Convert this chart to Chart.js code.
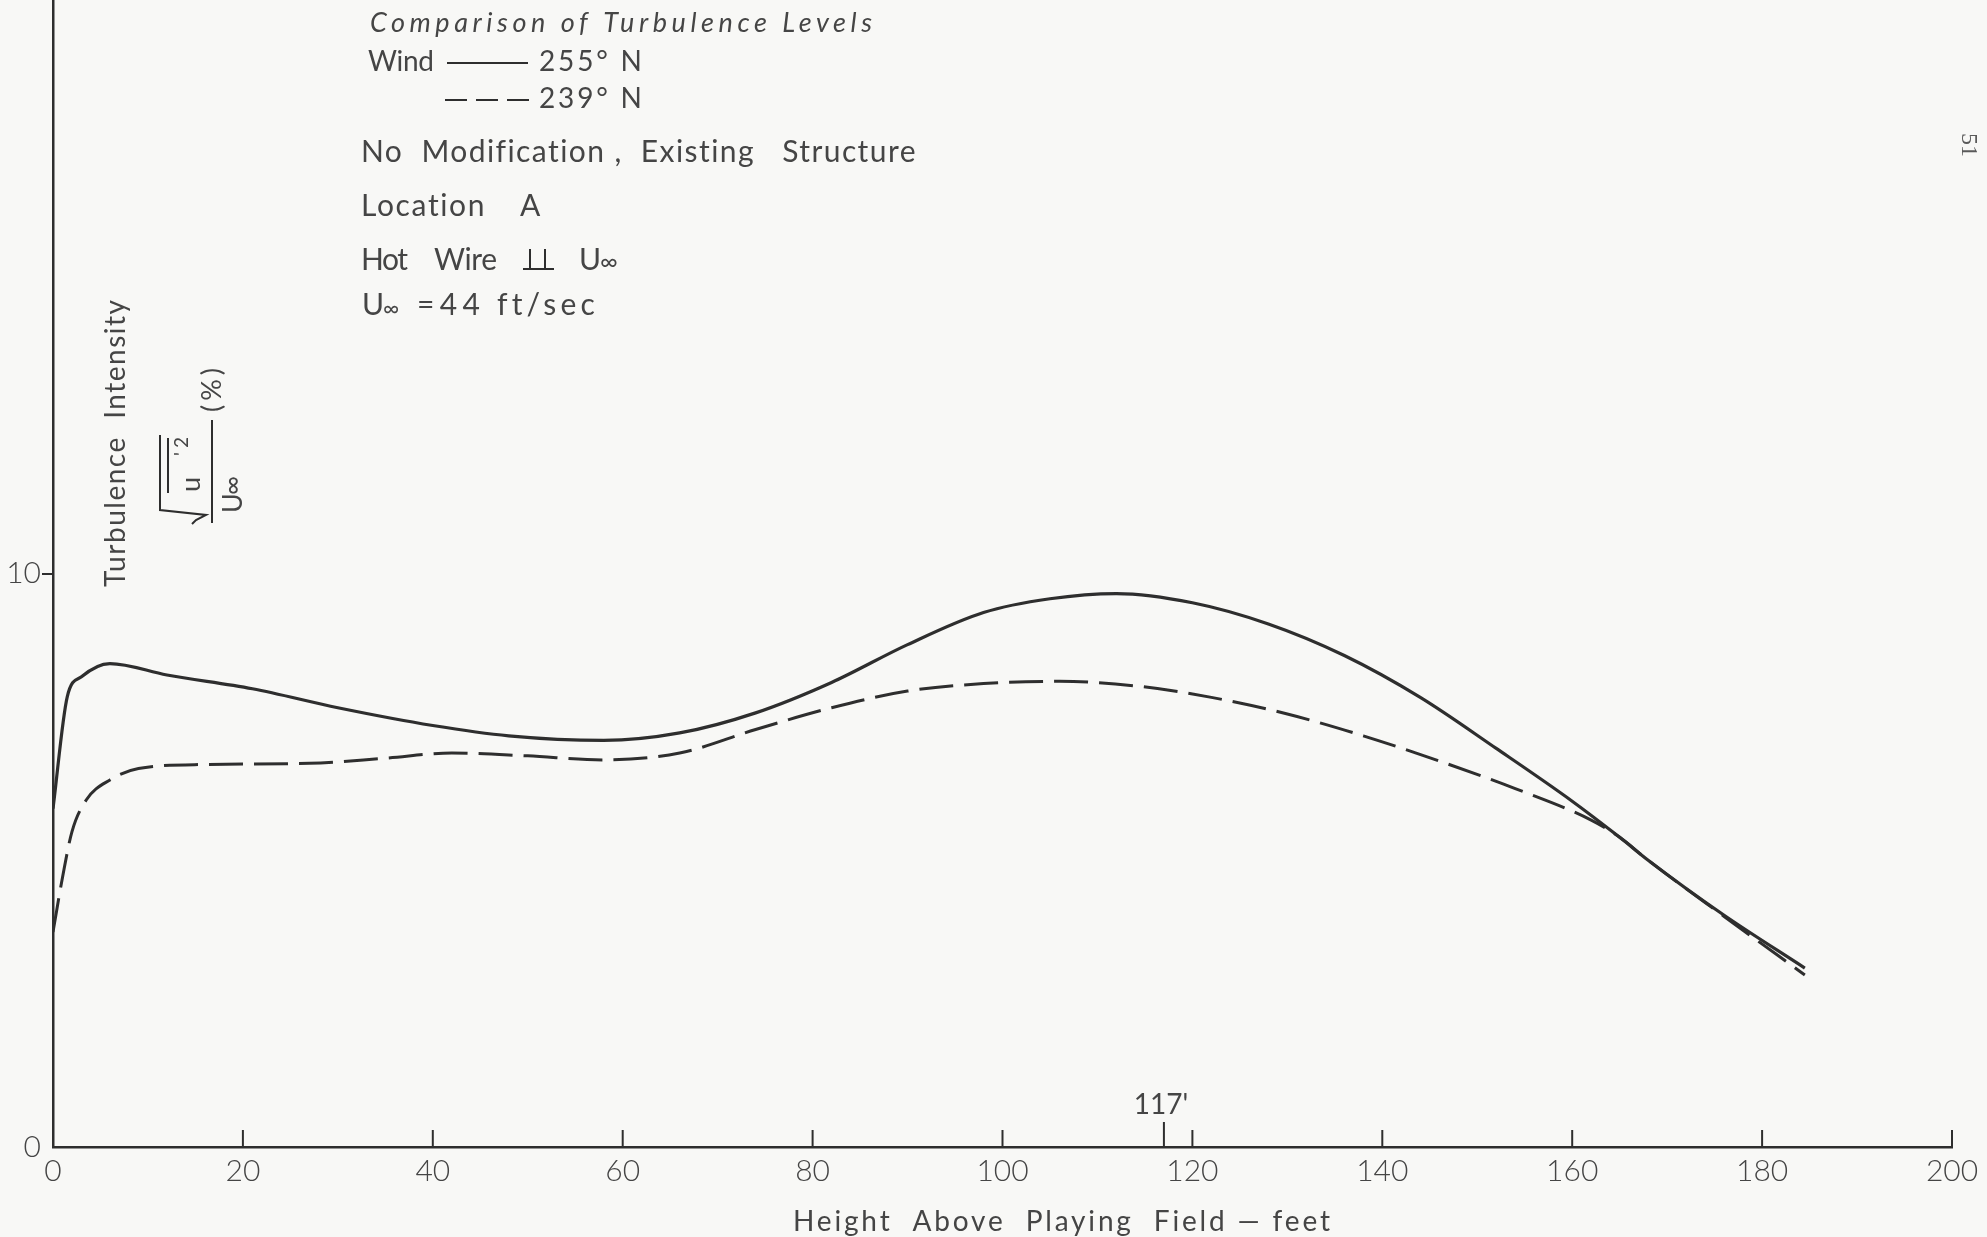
<!DOCTYPE html>
<html>
<head>
<meta charset="utf-8">
<script src="https://cdn.jsdelivr.net/npm/chart.js@4.4.0/dist/chart.umd.min.js"></script>
<style>
  html, body { margin: 0; padding: 0; background: #f8f8f6; }
  #wrap { width: 1987px; height: 1237px; }
</style>
</head>
<body>
<div id="wrap"><canvas id="turbChart" width="1987" height="1237"></canvas></div>
<script>
// heights above the playing field (ft) and turbulence intensity (%)
const heights255 = [0, 1.5, 3, 6, 12, 21, 30, 40, 48, 58, 66, 74, 82, 90, 98, 105, 112, 120, 128, 136, 144, 152, 160, 165, 168, 176, 184.5];
const turb255    = [5.9, 7.85, 8.2, 8.43, 8.23, 7.99, 7.66, 7.35, 7.17, 7.09, 7.22, 7.57, 8.1, 8.76, 9.32, 9.56, 9.65, 9.49, 9.12, 8.57, 7.84, 6.95, 6.03, 5.4, 5.0, 4.04, 3.12];

const heights239 = [0, 1, 2, 3.5, 6, 9, 16, 27, 35, 42, 50, 58, 66, 74, 82, 90, 98, 106, 114, 122, 130, 138, 146, 154, 162, 165, 168, 176, 184.5];
const turb239    = [3.75, 4.7, 5.5, 6.05, 6.4, 6.6, 6.67, 6.69, 6.78, 6.87, 6.82, 6.75, 6.87, 7.28, 7.66, 7.95, 8.08, 8.12, 8.04, 7.84, 7.55, 7.17, 6.73, 6.25, 5.7, 5.4, 5.0, 4.02, 3.0];

const xTickValues = [0, 20, 40, 60, 80, 100, 120, 140, 160, 180, 200];
const yTickValues = [0, 10];
const markerHeights = [117];
const markerLabels = ["117'"];

const ink = '#2e2e2e';
const textInk = '#454545';
const face = 'Lato, "DejaVu Sans", sans-serif';

// draw text so that it spans left..right (letter spacing stretched to fit)
function word(ctx, text, left, right, base, font) {
    ctx.font = font;
    ctx.letterSpacing = '0px';
    const w = ctx.measureText(text).width;
    let sp = text.length > 1 ? (right - left - w) / (text.length - 1) : 0;
    sp = Math.max(-2, Math.min(30, sp));
    ctx.letterSpacing = sp + 'px';
    ctx.textAlign = 'left';
    ctx.textBaseline = 'alphabetic';
    ctx.fillText(text, left, base);
    ctx.letterSpacing = '0px';
}

function line(ctx, x1, y1, x2, y2, w) {
    ctx.lineWidth = w;
    ctx.beginPath();
    ctx.moveTo(x1, y1);
    ctx.lineTo(x2, y2);
    ctx.stroke();
}

const paperNotes = {
    id: 'paperNotes',
    afterDraw(chart) {
        const ctx = chart.ctx;
        const xs = chart.scales.x;
        const ys = chart.scales.y;
        const base = ys.getPixelForValue(0);
        ctx.save();
        ctx.strokeStyle = ink;
        ctx.fillStyle = textInk;
        ctx.lineCap = 'butt';

        // tick marks point up into the plot
        xTickValues.forEach(v => {
            if (v === 0) return;
            const px = xs.getPixelForValue(v);
            line(ctx, px, base, px, base - 17, 2);
        });
        markerHeights.forEach((h, i) => {
            const px = xs.getPixelForValue(h);
            line(ctx, px, base, px, base - 25, 2);
            ctx.font = '28px ' + face;
            ctx.textAlign = 'center';
            ctx.textBaseline = 'alphabetic';
            ctx.fillText(markerLabels[i], px - 3, 1114);
        });

        // x axis title
        word(ctx, 'Height  Above  Playing  Field — feet', 793, 1330, 1231, '28px ' + face);

        // notes block
        word(ctx, 'Comparison of Turbulence Levels', 370, 872, 32, 'italic 27px ' + face);
        word(ctx, 'Wind', 368, 434, 71, '28px ' + face);
        line(ctx, 447, 63, 528, 63, 2);
        word(ctx, '255° N', 539, 642, 71, '28px ' + face);
        ctx.setLineDash([22, 9]);
        line(ctx, 445, 100, 531, 100, 2);
        ctx.setLineDash([]);
        word(ctx, '239° N', 539, 642, 108, '28px ' + face);
        word(ctx, 'No  Modification ,  Existing   Structure', 361, 916, 162, '30px ' + face);
        word(ctx, 'Location', 361, 485, 216, '30px ' + face);
        word(ctx, 'A', 520, 539, 216, '30px ' + face);
        word(ctx, 'Hot', 361, 408, 270, '30px ' + face);
        word(ctx, 'Wire', 434, 497, 270, '30px ' + face);
        // double perpendicular symbol
        line(ctx, 530, 249, 530, 268, 2);
        line(ctx, 545, 249, 545, 268, 2);
        line(ctx, 523, 269, 554, 269, 2);
        word(ctx, 'U', 579, 598, 270, '30px ' + face);
        word(ctx, '∞', 600, 619, 270, '24px ' + face);
        word(ctx, 'U', 362, 380, 315, '30px ' + face);
        word(ctx, '∞', 383, 408, 316, '22px ' + face);
        word(ctx, '=44', 417, 480, 315, '30px ' + face);
        word(ctx, 'ft/sec', 497, 594, 315, '30px ' + face);

        // y axis title, rotated
        ctx.save();
        ctx.translate(125, 587);
        ctx.rotate(-Math.PI / 2);
        word(ctx, 'Turbulence  Intensity', 0, 287, 0, '28px ' + face);
        ctx.restore();

        // the fraction sqrt(u'^2)/U_inf (%)
        ctx.save();
        ctx.translate(212, 472);
        ctx.rotate(-Math.PI / 2);
        line(ctx, -51, 0, 52, 0, 2);
        ctx.lineJoin = 'miter';
        ctx.lineWidth = 2;
        ctx.beginPath();
        ctx.moveTo(-52, -20);
        ctx.lineTo(-48, -16);
        ctx.lineTo(-43, -6);
        ctx.lineTo(-38, -52);
        ctx.lineTo(37, -52);
        ctx.stroke();
        line(ctx, -21, -44, 34, -44, 2);
        word(ctx, 'u', -20, -2, -12, '27px ' + face);
        word(ctx, "'2", 16, 35, -24, '19px ' + face);
        word(ctx, 'U', -41, -24, 30, '27px ' + face);
        word(ctx, '∞', -23, 4, 29, '26px ' + face);
        word(ctx, '(%)', 60, 104, 9, '27px ' + face);
        ctx.restore();

        // page number
        ctx.save();
        ctx.translate(1962, 133);
        ctx.rotate(Math.PI / 2);
        ctx.font = '24px "Liberation Serif", serif';
        ctx.fillStyle = '#5a5a5a';
        ctx.textAlign = 'left';
        ctx.textBaseline = 'alphabetic';
        ctx.fillText('51', 0, 0);
        ctx.restore();

        ctx.restore();
    }
};

const ctx = document.getElementById('turbChart');
new Chart(ctx, {
    type: 'line',
    data: {
        datasets: [
            {
                label: '255° N',
                data: heights255.map((h, i) => ({ x: h, y: turb255[i] })),
                borderColor: ink,
                borderWidth: 3.2,
                pointRadius: 0,
                cubicInterpolationMode: 'monotone',
                fill: false,
            },
            {
                label: '239° N',
                data: heights239.map((h, i) => ({ x: h, y: turb239[i] })),
                borderColor: ink,
                borderWidth: 3,
                borderDash: [34, 11],
                pointRadius: 0,
                cubicInterpolationMode: 'monotone',
                fill: false,
            }
        ]
    },
    options: {
        responsive: false,
        animation: false,
        layout: { padding: { left: 0, right: 35, top: 0, bottom: 0 } },
        plugins: {
            legend: { display: false },
            tooltip: { enabled: false },
        },
        scales: {
            x: {
                type: 'linear',
                min: 0,
                max: 200,
                afterBuildTicks: scale => { scale.ticks = xTickValues.map(v => ({ value: v })); },
                afterFit: scale => { scale.height = 90; scale.paddingLeft = 0; },
                grid: { display: false, drawTicks: false },
                border: { display: true, color: ink, width: 2.5 },
                ticks: {
                    font: { family: face, size: 30, weight: '300' },
                    color: textInk,
                    padding: 6,
                    maxRotation: 0,
                },
            },
            y: {
                type: 'linear',
                min: 0,
                max: 20,
                afterBuildTicks: scale => { scale.ticks = yTickValues.map(v => ({ value: v })); },
                afterFit: scale => { scale.width = 53; scale.paddingTop = 0; scale.paddingBottom = 0; },
                grid: {
                    drawOnChartArea: false,
                    tickLength: 11,
                    lineWidth: 2,
                    color: c => (c.tick && c.tick.value === 10 ? ink : 'rgba(0,0,0,0)'),
                },
                border: { display: true, color: ink, width: 2.5 },
                ticks: {
                    font: { family: face, size: 30, weight: '300' },
                    color: textInk,
                    padding: 1,
                },
            }
        }
    },
    plugins: [paperNotes]
});
</script>
</body>
</html>
